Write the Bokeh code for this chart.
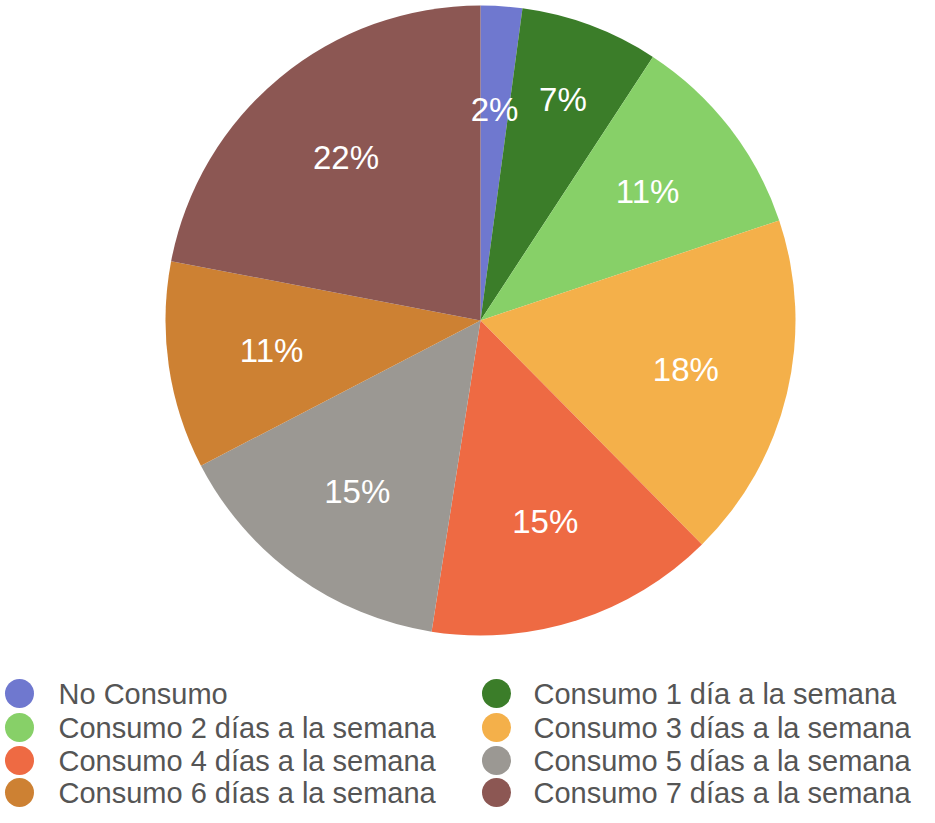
import numpy as np
from bokeh.plotting import figure
from bokeh.models import Range1d, ColumnDataSource
from bokeh.core.properties import value
from bokeh.embed import file_html
from bokeh.resources import INLINE

# ---- data ----
categories = [
    "No Consumo",
    "Consumo 1 día a la semana",
    "Consumo 2 días a la semana",
    "Consumo 3 días a la semana",
    "Consumo 4 días a la semana",
    "Consumo 5 días a la semana",
    "Consumo 6 días a la semana",
    "Consumo 7 días a la semana",
]
counts = [3, 10, 15, 25, 21, 21, 15, 31]
colors = ["#6f78cf", "#3b7d29", "#87d068", "#f4b04a", "#ee6a43", "#9b9893", "#cd8133", "#8c5753"]

H = 823
FW, FH = 919, 807

# data units == pixels, y measured from the top of the picture
def py(y):
    return H - y

cx, cy, R = 480, py(320), 315

vals = np.array(counts, dtype=float)
frac = vals / vals.sum()
cum = np.cumsum(frac)
prev = cum - frac
start = np.pi / 2 - 2 * np.pi * prev
end = np.pi / 2 - 2 * np.pi * cum
mid = (start + end) / 2
labels = [f"{round(f * 100):.0f}%" for f in frac]

src = ColumnDataSource(dict(start=start, end=end, color=colors))

p = figure(width=FW, height=FH, output_backend="svg", toolbar_location=None,
           x_range=Range1d(0, FW), y_range=Range1d(H - FH, H),
           min_border=0, outline_line_color=None)
p.axis.visible = False
p.grid.visible = False
p.background_fill_color = "white"
p.border_fill_color = "white"

p.wedge(x=cx, y=cy, radius=R, start_angle="start", end_angle="end",
        direction="clock", fill_color="color", line_color=None, source=src)

# label radius (layout): the small-slice neighbour label is pushed outward
lr = np.full(len(frac), 0.67 * R)
lr[1] = 0.75 * R
p.text(x=cx + lr * np.cos(mid), y=cy + lr * np.sin(mid), text=labels,
       text_font=value("Liberation Sans"), text_font_size="33px",
       text_color="white", text_align="center", text_baseline="middle")

# legend: two columns, row-major order
row_y = [693, 727, 760, 792]
col_cx = [19, 496]
col_tx = [58, 533]
lx, ly, tx = [], [], []
for i in range(len(categories)):
    r, c = divmod(i, 2)
    lx.append(col_cx[c]); tx.append(col_tx[c]); ly.append(py(row_y[r]))

p.scatter(x=lx, y=ly, marker="circle", size=29, fill_color=colors, line_color=None)
p.text(x=tx, y=ly, text=categories, text_font=value("Liberation Sans"),
       text_font_size="29px", text_color="#555555", text_align="left",
       text_baseline="middle")

open("out.html", "w").write(file_html(p, INLINE))
